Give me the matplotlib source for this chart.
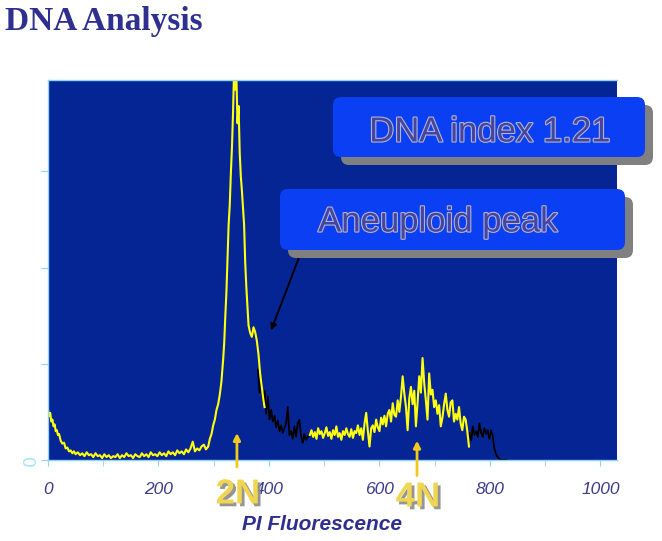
import matplotlib
matplotlib.use('Agg')
import matplotlib.pyplot as plt
import matplotlib.patheffects as pe
from matplotlib.patches import FancyBboxPatch

# Yellow trace, first part (debris + 2N peak + shoulder)
ch_y1 = [0, 2, 4, 6, 8, 10, 12, 14, 16, 18, 20, 23, 26, 29, 32, 35, 38, 41, 44, 47,
         50, 54, 58, 62, 66, 70, 74, 78, 82, 86, 90, 94, 98, 102, 106, 110, 114, 118,
         122, 126, 130, 134, 138, 142, 146, 150, 154, 158, 162, 166, 170, 174, 178,
         182, 186, 190, 194, 198, 202, 206, 210, 214, 218, 222, 226, 230, 234, 238,
         242, 246, 250, 254, 258, 262, 266, 270, 274, 278, 282, 286, 290, 293, 296,
         299, 302, 305, 308, 311, 314, 317, 319, 321, 323, 325, 327, 329, 331, 333,
         335, 337, 339, 341, 343, 345, 347, 349, 351, 353, 355, 357, 359, 361, 363,
         366, 369, 372, 375, 378, 381, 384, 387, 390, 392]
cnt_y1 = [52, 46, 49, 40, 42, 35, 37, 30, 31, 26, 27, 20, 17, 18, 12, 13, 9, 10, 7, 9,
          6, 8, 5, 7, 4, 8, 5, 6, 3, 7, 4, 5, 2, 6, 3, 5, 2, 4,
          3, 6, 2, 5, 3, 7, 4, 5, 2, 6, 4, 3, 7, 4, 6,
          3, 8, 5, 6, 4, 8, 5, 7, 4, 9, 6, 8, 5, 10, 7,
          9, 6, 11, 8, 12, 19, 9, 12, 10, 14, 16, 11, 14, 22, 27,
          36, 42, 52, 58, 68, 82, 104, 122, 150, 175, 210, 245, 265, 298, 325,
          362, 410, 385, 400, 350, 368, 320, 295, 280, 262, 244, 205, 180, 160, 140,
          132, 128, 138, 133, 124, 110, 90, 76, 62, 55]

# Black trace between the peaks
ch_b1 = [380, 383, 386, 389, 392, 395, 398, 401, 404, 407, 410, 413, 416, 419, 422,
         425, 428, 431, 434, 437, 440, 443, 446, 449, 452, 455, 458, 461, 464, 467,
         470, 474]
cnt_b1 = [94, 70, 85, 60, 72, 48, 66, 42, 52, 40, 46, 34, 41, 30, 36,
          28, 33, 38, 55, 26, 30, 22, 35, 24, 38, 42, 25, 18, 27, 21,
          24, 26]

# Yellow trace, second part (S phase + 4N)
ch_y2 = [474, 477, 480, 483, 486, 489, 492, 495, 498, 501, 504, 507, 510, 513, 516,
         519, 522, 525, 528, 531, 534, 537, 540, 543, 546, 549, 552, 555, 558, 561,
         564, 567, 570, 573, 576, 579, 582, 585, 588, 591, 594, 597, 600, 603, 606,
         609, 612, 615, 618, 621, 624, 627, 630, 633, 636, 639, 642, 645, 648, 651,
         654, 657, 660, 663, 666, 669, 672, 675, 678, 681, 684, 687, 690, 693, 696,
         699, 702, 705, 708, 711, 714, 717, 720, 723, 726, 729, 732, 735, 738, 741,
         744, 747, 750, 753, 756, 759, 762]
cnt_y2 = [26, 31, 24, 29, 22, 33, 27, 30, 23, 28, 34, 25, 29, 22, 31,
          26, 35, 24, 28, 21, 30, 26, 33, 27, 24, 32, 23, 30, 28, 36,
          26, 33, 21, 38, 49, 30, 14, 33, 36, 29, 42, 34, 30, 44, 37,
          46, 35, 48, 52, 40, 59, 47, 45, 62, 50, 66, 87, 69, 55, 31,
          64, 76, 58, 72, 35, 60, 87, 70, 106, 80, 62, 42, 90, 68, 73,
          55, 62, 48, 57, 35, 44, 58, 69, 52, 45, 60, 62, 40, 48, 42,
          55, 38, 31, 45, 42, 30, 14]

# Black trace at the upper end
ch_b2 = [760, 763, 766, 769, 772, 775, 778, 781, 784, 787, 790, 793, 796, 799, 802,
         805, 808, 811, 814, 817, 820, 825, 830]
cnt_b2 = [21, 28, 20, 35, 26, 30, 24, 38, 29, 24, 33, 27, 31, 22, 31,
          25, 12, 6, 3, 1, 0, 0, 0]

x_ticks = [0, 200, 400, 600, 800, 1000]
y_ticks = [0, 100, 200, 300]
y_tick_labels = ['0', '', '', '']

# annotations
peak_2n = 342
peak_4n = 668
aneuploid_tip = (402, 132)

bg = '#062595'
tick_col = '#8fd3f5'
navy = '#2f2f8f'

fig = plt.figure(figsize=(6.62, 5.41), dpi=100)
ax = fig.add_axes([48 / 662, 81 / 541, 569 / 662, 380 / 541])
ax.set_facecolor(bg)

ax.plot(ch_b1, cnt_b1, color='black', lw=1.3)
ax.plot(ch_b2, cnt_b2, color='black', lw=1.3)
ax.plot(ch_y1, cnt_y1, color='#ffff10', lw=1.5)
ax.plot(ch_y2, cnt_y2, color='#ffff10', lw=1.5)

ax.set_xlim(0, 1030)
ax.set_ylim(0, 395)

ax.set_xticks(x_ticks)
ax.set_xticks(range(100, 1001, 200), minor=True)
ax.set_yticks(y_ticks)
ax.set_yticklabels(y_tick_labels, rotation=90, va='center', color='#a8e6fa',
                   fontsize=13)
ax.tick_params(axis='x', which='both', direction='out', length=4, color=tick_col,
               pad=12, labelsize=12.5, labelcolor='#3b3b8c')
ax.tick_params(axis='y', direction='out', length=5, color=tick_col, pad=1)
for lab in ax.get_xticklabels():
    lab.set_fontstyle('italic')
    lab.set_family('Liberation Sans')

for side in ['left', 'bottom', 'top']:
    ax.spines[side].set_color(tick_col)
    ax.spines[side].set_linewidth(1.0)
ax.spines['right'].set_visible(False)

# title and axis label
fig.text(0.008, 0.961, 'DNA Analysis', family='Liberation Serif', weight='bold',
         size=24, color=navy, va='center', ha='left')
fig.text(322 / 662, 1 - 524 / 541, 'PI Fluorescence', family='Liberation Sans',
         weight='bold', style='italic', size=15, color=navy, ha='center', va='center')

# 2N / 4N markers
gold = '#f2c81c'
ax.annotate('', xy=(peak_2n, 31), xytext=(peak_2n, -10), annotation_clip=False,
            arrowprops=dict(arrowstyle='-|>', color=gold, lw=2, mutation_scale=10))
ax.annotate('', xy=(peak_4n, 23), xytext=(peak_4n, -19), annotation_clip=False,
            arrowprops=dict(arrowstyle='-|>', color=gold, lw=2, mutation_scale=10))
shadow = [pe.withSimplePatchShadow(offset=(2, -2), shadow_rgbFace='#8a8a8a', alpha=0.9)]
fig.text(238 / 662, 1 - 494 / 541, '2N', family='Liberation Sans', weight='bold',
         size=25, color='#f0d650', ha='center', va='center', path_effects=shadow)
fig.text(418 / 662, 1 - 497 / 541, '4N', family='Liberation Sans', weight='bold',
         size=25, color='#f0d650', ha='center', va='center', path_effects=shadow)

# black arrow to the aneuploid shoulder
ax.annotate('', xy=aneuploid_tip, xytext=(456, 213), annotation_clip=False,
            arrowprops=dict(arrowstyle='-|>', color='black', lw=1.4, mutation_scale=9))

# callout boxes (inches, figure space)
box_col = '#0b3ff3'
tr = fig.dpi_scale_trans
for (bx, by, bw, bh) in [(3.33, 3.84, 3.12, 0.60), (2.80, 2.91, 3.45, 0.61)]:
    fig.patches.append(FancyBboxPatch((bx + 0.08, by - 0.08), bw, bh,
                                      boxstyle='round,pad=0,rounding_size=0.08',
                                      transform=tr, facecolor='#808080',
                                      edgecolor='none', zorder=2))
    fig.patches.append(FancyBboxPatch((bx, by), bw, bh,
                                      boxstyle='round,pad=0,rounding_size=0.08',
                                      transform=tr, facecolor=box_col,
                                      edgecolor='none', zorder=2))

outline = [pe.withStroke(linewidth=1.6, foreground='#b4b4d0')]
fig.text(4.90, 4.09, 'DNA index 1.21', transform=tr, family='Liberation Sans',
         size=25, color='#4444a2', ha='center', va='center', path_effects=outline,
         zorder=3)
fig.text(4.38, 3.19, 'Aneuploid peak', transform=tr, family='Liberation Sans',
         size=25, color='#4444a2', ha='center', va='center', path_effects=outline,
         zorder=3)

fig.savefig('out.png', dpi=100)
